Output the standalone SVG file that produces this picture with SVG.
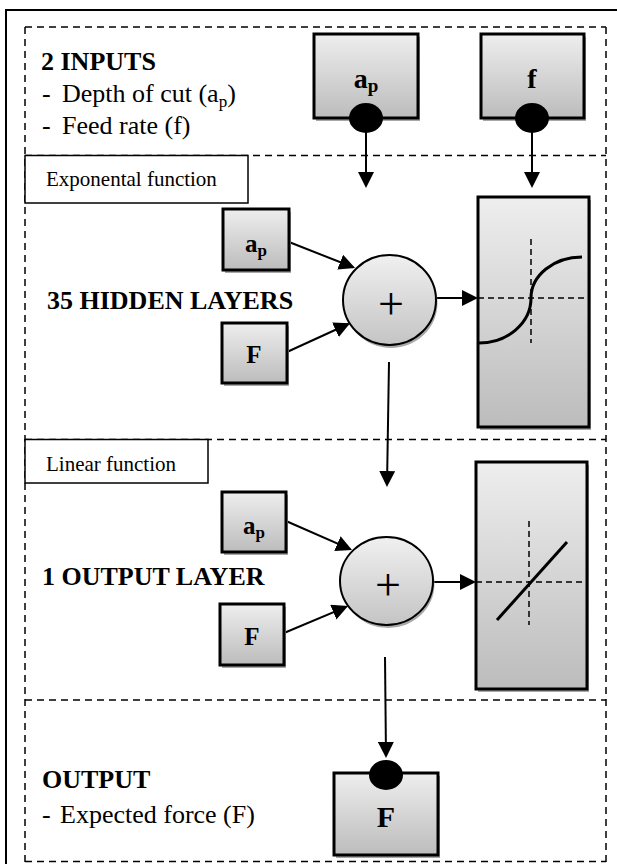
<svg xmlns="http://www.w3.org/2000/svg" width="617" height="864" viewBox="0 0 617 864">
  <defs>
    <linearGradient id="grayFill" x1="0" y1="0" x2="0" y2="1">
      <stop offset="0" stop-color="#eeeeee"/>
      <stop offset="1" stop-color="#bcbcbc"/>
    </linearGradient>
    <linearGradient id="sumFill" x1="0" y1="0" x2="0" y2="1">
      <stop offset="0" stop-color="#f0f0f0"/>
      <stop offset="1" stop-color="#c4c4c4"/>
    </linearGradient>
    <marker id="arrow" viewBox="0 0 16 16" refX="14" refY="8" markerWidth="16" markerHeight="16" markerUnits="userSpaceOnUse" orient="auto">
      <path d="M0,0 L16,8 L0,16 z" fill="#000"/>
    </marker>
  </defs>
  <style>
    .frame { fill: none; stroke: #000; stroke-width: 2; }
    .dash { fill: none; stroke: #000; stroke-width: 1.5; stroke-dasharray: 7 5; }
    .axis { fill: none; stroke: #000; stroke-width: 1.5; stroke-dasharray: 6 4; }
    .tag { fill: #fff; stroke: #000; stroke-width: 1.5; }
    .box { fill: url(#grayFill); stroke: #000; stroke-width: 3; }
    .sum { fill: url(#sumFill); stroke: #000; stroke-width: 2; }
    .shadow { fill: #a8a8a8; }
    .dot { fill: #000; }
    .edge { fill: none; stroke: #000; stroke-width: 2; marker-end: url(#arrow); }
    .curve { fill: none; stroke: #000; stroke-width: 3; }
    .head { font-family: "Liberation Serif", "Times New Roman", serif; font-weight: bold; font-size: 26px; fill: #000; }
    .body { font-family: "Liberation Serif", "Times New Roman", serif; font-size: 26px; fill: #000; }
    .label { font-family: "Liberation Serif", "Times New Roman", serif; font-size: 21px; fill: #000; }
    .sym { font-family: "Liberation Serif", "Times New Roman", serif; font-weight: bold; fill: #000; text-anchor: middle; }
    .plus { font-family: "Liberation Serif", "Times New Roman", serif; font-size: 46px; fill: #000; text-anchor: middle; }
  </style>

  <!-- outer frame -->
  <rect class="frame" x="6" y="10" width="620" height="870"/>

  <!-- dashed section bands -->
  <g id="sections">
    <line class="dash" x1="25" y1="27" x2="25" y2="862"/>
    <line class="dash" x1="606" y1="27" x2="606" y2="862"/>
    <line class="dash" x1="25" y1="27" x2="606" y2="27"/>
    <line class="dash" x1="25" y1="155.5" x2="606" y2="155.5"/>
    <line class="dash" x1="25" y1="439.5" x2="606" y2="439.5"/>
    <line class="dash" x1="25" y1="700" x2="606" y2="700"/>
    <line class="dash" x1="25" y1="861.5" x2="606" y2="861.5"/>
  </g>

  <!-- section captions -->
  <g id="inputs-caption">
    <text class="head" x="41" y="70">2 INPUTS</text>
    <text class="body" x="42" y="102">-</text>
    <text class="body" x="62" y="102">Depth of cut (a<tspan font-size="17" dy="5">p</tspan><tspan dy="-5">)</tspan></text>
    <text class="body" x="42" y="134">-</text>
    <text class="body" x="62" y="134">Feed rate (f)</text>
  </g>
  <g id="hidden-caption">
    <rect class="tag" x="25" y="155.5" width="223" height="47.5"/>
    <text class="label" x="46" y="186">Exponental function</text>
    <text class="head" x="47" y="309" font-size="27">35 HIDDEN LAYERS</text>
  </g>
  <g id="output-layer-caption">
    <rect class="tag" x="25" y="439.5" width="183" height="43.5"/>
    <text class="label" x="46" y="471">Linear function</text>
    <text class="head" x="42" y="585">1 OUTPUT LAYER</text>
  </g>
  <g id="output-caption">
    <text class="head" x="42" y="788">OUTPUT</text>
    <text class="body" x="42" y="823">-</text>
    <text class="body" x="60" y="823">Expected force (F)</text>
  </g>

  <!-- connectors -->
  <g id="connectors">
    <line class="edge" x1="366" y1="131" x2="366" y2="186"/>
    <line class="edge" x1="532" y1="131" x2="532" y2="186"/>
    <line class="edge" x1="289" y1="242" x2="353.2" y2="267.3"/>
    <line class="edge" x1="287" y1="352" x2="348.2" y2="324"/>
    <line class="edge" x1="436" y1="298" x2="476" y2="298"/>
    <line class="edge" x1="389" y1="362" x2="387" y2="485"/>
    <line class="edge" x1="286" y1="521" x2="350.2" y2="549.2"/>
    <line class="edge" x1="284" y1="633" x2="346.2" y2="606.8"/>
    <line class="edge" x1="433" y1="582" x2="474" y2="582"/>
    <line class="edge" x1="385" y1="657" x2="386" y2="756"/>
  </g>

  <!-- input nodes -->
  <g id="input-ap">
    <rect class="shadow" x="316" y="37" width="104" height="84"/>
    <rect class="box" x="314" y="34" width="104" height="84"/>
    <text class="sym" x="366" y="88" font-size="28">a<tspan font-size="19" dy="4">p</tspan></text>
    <ellipse class="dot" cx="366" cy="118" rx="17" ry="15"/>
  </g>
  <g id="input-f">
    <rect class="shadow" x="483" y="37" width="103" height="84"/>
    <rect class="box" x="481" y="34" width="103" height="84"/>
    <text class="sym" x="532" y="88" font-size="28">f</text>
    <ellipse class="dot" cx="532" cy="118" rx="17" ry="15"/>
  </g>

  <!-- hidden layer -->
  <g id="hidden-ap">
    <rect class="shadow" x="225" y="212" width="66" height="61"/>
    <rect class="box" x="223" y="209" width="66" height="61"/>
    <text class="sym" x="256" y="252" font-size="25">a<tspan font-size="17" dy="4">p</tspan></text>
  </g>
  <g id="hidden-F">
    <rect class="shadow" x="224" y="326" width="65" height="60"/>
    <rect class="box" x="222" y="323" width="65" height="60"/>
    <text class="sym" x="254" y="363" font-size="25">F</text>
  </g>
  <g id="hidden-sum">
    <ellipse class="shadow" cx="391" cy="303" rx="46.5" ry="45"/>
    <ellipse class="sum" cx="389.5" cy="300" rx="46.5" ry="45"/>
    <text class="plus" x="391" y="319">+</text>
  </g>
  <g id="hidden-activation">
    <rect class="shadow" x="480" y="200" width="111" height="230"/>
    <rect class="box" x="478" y="197" width="111" height="230"/>
    <line class="axis" x1="478" y1="298" x2="589" y2="298"/>
    <line class="axis" x1="531" y1="239" x2="531" y2="343"/>
    <path class="curve" d="M479,343 A52,45 0 0 0 531,298 A51,41 0 0 1 582,257"/>
  </g>

  <!-- output layer -->
  <g id="output-ap">
    <rect class="shadow" x="224" y="495" width="64" height="60"/>
    <rect class="box" x="222" y="492" width="64" height="60"/>
    <text class="sym" x="254" y="534" font-size="25">a<tspan font-size="17" dy="4">p</tspan></text>
  </g>
  <g id="output-F">
    <rect class="shadow" x="222" y="607" width="64" height="61"/>
    <rect class="box" x="220" y="604" width="64" height="61"/>
    <text class="sym" x="252" y="645" font-size="25">F</text>
  </g>
  <g id="output-sum">
    <ellipse class="shadow" cx="388" cy="584" rx="46.5" ry="44"/>
    <ellipse class="sum" cx="386.5" cy="581" rx="46.5" ry="44"/>
    <text class="plus" x="388" y="600">+</text>
  </g>
  <g id="output-activation">
    <rect class="shadow" x="478" y="465" width="111" height="227"/>
    <rect class="box" x="476" y="462" width="111" height="227"/>
    <line class="axis" x1="476" y1="582" x2="587" y2="582"/>
    <line class="axis" x1="529" y1="521" x2="529" y2="625"/>
    <line class="curve" x1="497" y1="620" x2="567" y2="542"/>
  </g>

  <!-- network output -->
  <g id="result-F">
    <rect class="shadow" x="336" y="776" width="104" height="82"/>
    <rect class="box" x="334" y="773" width="104" height="82"/>
    <text class="sym" x="386" y="827" font-size="30">F</text>
    <ellipse class="dot" cx="386" cy="775" rx="17" ry="15"/>
  </g>
</svg>
